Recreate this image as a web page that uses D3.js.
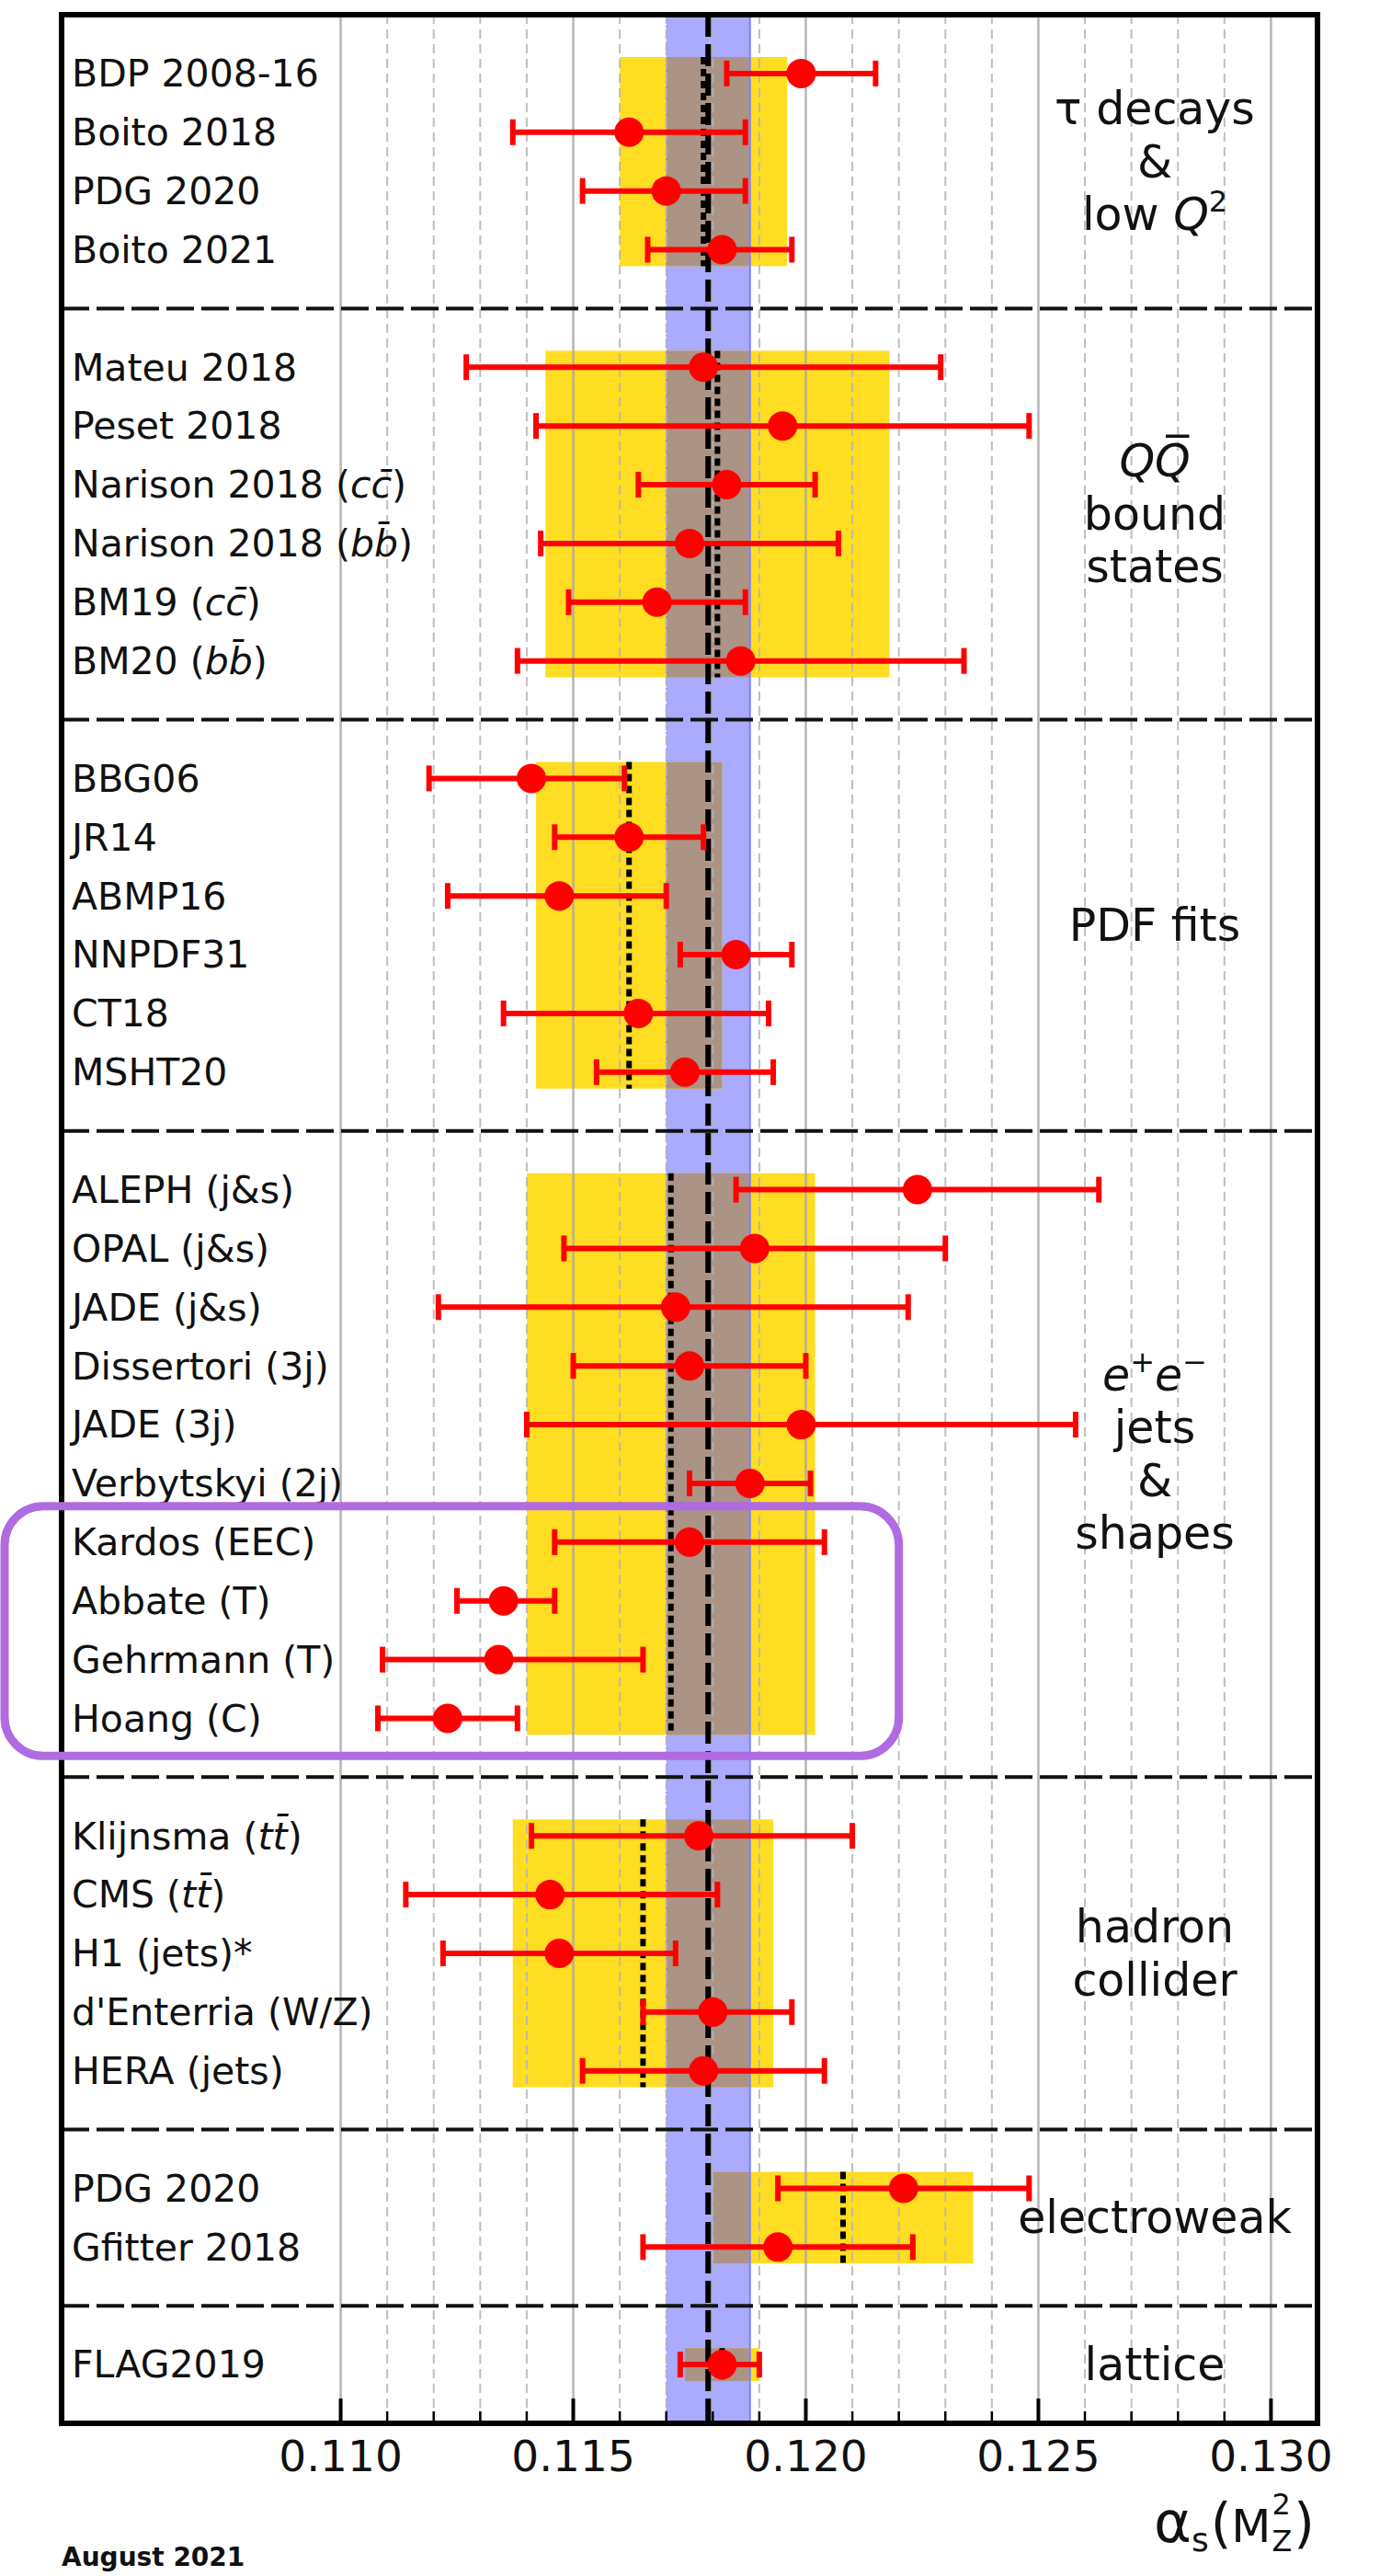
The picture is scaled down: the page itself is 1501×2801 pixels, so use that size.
<!DOCTYPE html>
<html><head><meta charset="utf-8">
<script src="https://cdn.jsdelivr.net/npm/d3@7"></script>
<style>html,body{margin:0;padding:0;background:#fff}svg{display:block}</style>
</head><body>
<svg id="chart" width="1501" height="2801"></svg>
<script>
// ---------------- data ----------------
const labels = [
  "BDP 2008-16","Boito 2018","PDG 2020","Boito 2021",
  "Mateu 2018","Peset 2018","Narison 2018 (cc\u0304)","Narison 2018 (bb\u0304)","BM19 (cc\u0304)","BM20 (bb\u0304)",
  "BBG06","JR14","ABMP16","NNPDF31","CT18","MSHT20",
  "ALEPH (j&s)","OPAL (j&s)","JADE (j&s)","Dissertori (3j)","JADE (3j)","Verbytskyi (2j)","Kardos (EEC)","Abbate (T)","Gehrmann (T)","Hoang (C)",
  "Klijnsma (tt\u0304)","CMS (tt\u0304)","H1 (jets)*","d'Enterria (W/Z)","HERA (jets)",
  "PDG 2020","Gfitter 2018",
  "FLAG2019"
];
const centralValues = [
  0.1199,0.1162,0.1170,0.1182,
  0.1178,0.1195,0.1183,0.1175,0.1168,0.1186,
  0.1141,0.1162,0.1147,0.1185,0.1164,0.1174,
  0.1224,0.1189,0.1172,0.1175,0.1199,0.1188,0.1175,0.1135,0.1134,0.1123,
  0.1177,0.1145,0.1147,0.1180,0.1178,
  0.1221,0.1194,
  0.1182
];
const lowerBounds = [
  0.1183,0.1137,0.1152,0.1166,
  0.1127,0.1142,0.1164,0.1143,0.1149,0.1138,
  0.1119,0.1146,0.1123,0.1173,0.1135,0.1155,
  0.1185,0.1148,0.1121,0.1150,0.1140,0.1175,0.1146,0.1125,0.1109,0.1108,
  0.1141,0.1114,0.1122,0.1165,0.1152,
  0.1194,0.1165,
  0.1173
];
const upperBounds = [
  0.1215,0.1187,0.1187,0.1197,
  0.1229,0.1248,0.1202,0.1207,0.1187,0.1234,
  0.1161,0.1178,0.1170,0.1197,0.1192,0.1193,
  0.1263,0.1230,0.1222,0.1200,0.1258,0.1201,0.1204,0.1146,0.1165,0.1138,
  0.1210,0.1181,0.1172,0.1197,0.1204,
  0.1248,0.1223,
  0.1190
];
const sectionSizes = [4,6,6,10,5,2,1];
const sectionAverages = [0.1178,0.1181,0.1162,0.1171,0.1165,0.1208,0.1182];
const sectionErrors   = [0.0018,0.0037,0.0020,0.0031,0.0028,0.0028,0.0008];
const sectionTitles = [
  [[{t:"τ decays"}],[{t:"&"}],[{t:"low "},{t:"Q",i:1},{t:"2",sup:1}]],
  [[{t:"Q",i:1},{t:"Q\u0305",i:1}],[{t:"bound"}],[{t:"states"}]],
  [[{t:"PDF fits"}]],
  [[{t:"e",i:1},{t:"+",sup:1},{t:"e",i:1},{t:"\u2212",sup:1}],[{t:"jets"}],[{t:"&"}],[{t:"shapes"}]],
  [[{t:"hadron"}],[{t:"collider"}]],
  [[{t:"electroweak"}]],
  [[{t:"lattice"}]]
];
const worldAverage = 0.1179;
const worldError = 0.0009;
const majorTicks = [0.110,0.115,0.120,0.125,0.130];
const tickLabels = ["0.110","0.115","0.120","0.125","0.130"];
const minorTicks = [0.111,0.112,0.113,0.114,0.116,0.117,0.118,0.119,0.121,0.122,0.123,0.124,0.126,0.127,0.128,0.129];
const highlightRows = ["Kardos (EEC)","Hoang (C)"];
const dateText = "August 2021";

// ---------------- layout ----------------
const X0 = 67, X1 = 1433, Y0 = 16, Y1 = 2635;
const nSlots = 41;
const x = d3.scaleLinear().domain([0.104,0.131]).range([X0,X1]);
const y = d3.scaleLinear().domain([0,nSlots]).range([Y0,Y1]);
const FONT = "'DejaVu Sans', Verdana, sans-serif";

// row slots and section structure
const rowSlot = [];
const sections = [];
{
  let s = 1, r = 0;
  sectionSizes.forEach((n,i) => {
    const first = s, last = s+n-1;
    for (let j=0;j<n;j++){ rowSlot.push(s+j); r++; }
    sections.push({i, first, last, sep: s+n});
    s = s+n+1;
  });
}
const rows = labels.map((l,i)=>({label:l, v:centralValues[i], lo:lowerBounds[i], hi:upperBounds[i], slot:rowSlot[i]}));

const svg = d3.select("#chart");
svg.append("rect").attr("width",1501).attr("height",2801).attr("fill","#fff");

const YEL = "#ffdd22", BLUE = "#aaaaff", BROWN = "#ab9386";
const pad = 0.28;

// world average band (full height)
svg.append("rect")
  .attr("x", x(worldAverage-worldError)).attr("y", Y0)
  .attr("width", x(worldAverage+worldError)-x(worldAverage-worldError))
  .attr("height", Y1-Y0).attr("fill", BLUE);

// section pre-average boxes
const boxes = svg.append("g");
sections.forEach(sec => {
  const a = sectionAverages[sec.i], e = sectionErrors[sec.i];
  const y1 = y(sec.first - pad), y2 = y(sec.last + pad);
  boxes.append("rect").attr("x", x(a-e)).attr("y", y1)
    .attr("width", x(a+e)-x(a-e)).attr("height", y2-y1).attr("fill", YEL);
  const lo = Math.max(a-e, worldAverage-worldError), hi = Math.min(a+e, worldAverage+worldError);
  if (hi > lo) {
    boxes.append("rect").attr("x", x(lo)).attr("y", y1)
      .attr("width", x(hi)-x(lo)).attr("height", y2-y1).attr("fill", BROWN);
  }
});

// band edges
svg.append("line").attr("x1", x(worldAverage+worldError)).attr("x2", x(worldAverage+worldError))
  .attr("y1",Y0).attr("y2",Y1).attr("stroke","#8080ff").attr("stroke-width",2);
svg.append("line").attr("x1", x(worldAverage-worldError)).attr("x2", x(worldAverage-worldError))
  .attr("y1",Y0).attr("y2",Y1).attr("stroke","#7070ff").attr("stroke-width",1.5).attr("stroke-dasharray","2,4").attr("opacity",0.6);

// grid
const grid = svg.append("g").attr("opacity",0.85);
grid.selectAll("line.maj").data(majorTicks).join("line")
  .attr("x1",d=>x(d)).attr("x2",d=>x(d)).attr("y1",Y0).attr("y2",Y1)
  .attr("stroke","#a9a9a9").attr("stroke-width",2.5);
grid.selectAll("line.min").data(minorTicks).join("line")
  .attr("x1",d=>x(d)).attr("x2",d=>x(d)).attr("y1",Y0).attr("y2",Y1)
  .attr("stroke","#b4b4b4").attr("stroke-width",2).attr("stroke-dasharray","10,6");

// separators
svg.append("g").selectAll("line").data(sections.slice(0,-1)).join("line")
  .attr("x1",X0).attr("x2",X1).attr("y1",d=>y(d.sep)).attr("y2",d=>y(d.sep))
  .attr("stroke","#111").attr("stroke-width",4).attr("stroke-dasharray","30,8");

// section average dotted lines
svg.append("g").selectAll("line").data(sections).join("line")
  .attr("x1",d=>x(sectionAverages[d.i])).attr("x2",d=>x(sectionAverages[d.i]))
  .attr("y1",d=>y(d.first-pad)).attr("y2",d=>y(d.last+pad))
  .attr("stroke","#000").attr("stroke-width",6).attr("stroke-dasharray","8,5");

// world average dashed line
svg.append("line").attr("x1",x(worldAverage)).attr("x2",x(worldAverage))
  .attr("y1",Y0).attr("y2",Y1).attr("stroke","#000").attr("stroke-width",6)
  .attr("stroke-dasharray","24,8");

// error bars
const eb = svg.append("g").attr("stroke","#ff0000").attr("fill","#ff0000");
eb.selectAll("line.bar").data(rows).join("line")
  .attr("x1",d=>x(d.lo)).attr("x2",d=>x(d.hi)).attr("y1",d=>y(d.slot)).attr("y2",d=>y(d.slot))
  .attr("stroke-width",6);
eb.selectAll("line.capl").data(rows).join("line")
  .attr("x1",d=>x(d.lo)).attr("x2",d=>x(d.lo)).attr("y1",d=>y(d.slot)-14).attr("y2",d=>y(d.slot)+14)
  .attr("stroke-width",6);
eb.selectAll("line.caph").data(rows).join("line")
  .attr("x1",d=>x(d.hi)).attr("x2",d=>x(d.hi)).attr("y1",d=>y(d.slot)-14).attr("y2",d=>y(d.slot)+14)
  .attr("stroke-width",6);
eb.selectAll("circle").data(rows).join("circle")
  .attr("cx",d=>x(d.v)).attr("cy",d=>y(d.slot)).attr("r",16).attr("stroke","none");

// row labels
const lab = svg.append("g").attr("font-family",FONT).attr("font-size",41).attr("fill","#111");
rows.forEach(d => {
  const t = lab.append("text").attr("x",78).attr("y",y(d.slot)).attr("dy","0.35em");
  const m = d.label.match(/^(.*\()([cbt])([cbt]\u0304)(\).*)$/);
  if (m) {
    t.append("tspan").text(m[1]);
    t.append("tspan").attr("font-style","italic").text(m[2]);
    t.append("tspan").attr("font-style","italic").text(m[3]);
    t.append("tspan").text(m[4]);
  } else t.text(d.label);
});

// section titles
const tit = svg.append("g").attr("font-family",FONT).attr("font-size",49).attr("fill","#111").attr("text-anchor","middle");
const TX = 1256, LS = 57.5;
sections.forEach(sec => {
  const lines = sectionTitles[sec.i];
  const c = y((sec.first+sec.last)/2);
  lines.forEach((segs,k) => {
    const cy = c + (k-(lines.length-1)/2)*LS;
    const t = tit.append("text").attr("x",TX).attr("y",cy+17);
    let raised = false;
    segs.forEach(sg => {
      const ts = t.append("tspan").text(sg.t);
      if (sg.i) ts.attr("font-style","italic");
      if (sg.sup) { ts.attr("font-size",32).attr("dy",-20); raised = true; }
      else if (raised) { ts.attr("dy",20); raised = false; }
    });
  });
});

// frame
svg.append("rect").attr("x",X0).attr("y",Y0).attr("width",X1-X0).attr("height",Y1-Y0)
  .attr("fill","none").attr("stroke","#000").attr("stroke-width",6);

// ticks
svg.append("g").selectAll("line").data(majorTicks).join("line")
  .attr("x1",d=>x(d)).attr("x2",d=>x(d)).attr("y1",Y1).attr("y2",Y1-27)
  .attr("stroke","#000").attr("stroke-width",4);
svg.append("g").selectAll("line").data(minorTicks).join("line")
  .attr("x1",d=>x(d)).attr("x2",d=>x(d)).attr("y1",Y1).attr("y2",Y1-13)
  .attr("stroke","#000").attr("stroke-width",2.5);
svg.append("g").attr("font-family",FONT).attr("font-size",47).attr("fill","#111").attr("text-anchor","middle")
  .selectAll("text").data(majorTicks).join("text")
  .attr("x",d=>x(d)).attr("y",Y1+52).text((d,i)=>tickLabels[i]);

// axis title  α_s(M_Z^2)
{
  const g = svg.append("g").attr("font-family",FONT).attr("fill","#111");
  let cx = 0; const base = 2764;
  const put = (txt, size, dy, style) => {
    const t = g.append("text").attr("x",cx).attr("y",base+dy).attr("font-size",size).text(txt);
    if (style) t.attr("font-style",style);
    const w = t.node().getComputedTextLength(); return {t,w};
  };
  let p = put("α",62,0); cx += p.w;
  p = put("s",36,10); cx += p.w+2;
  p = put("(",58,0); cx += p.w;
  p = put("M",50,0); cx += p.w+1;
  const sup = put("2",32,-30); const sub = put("Z",32,10);
  cx += Math.max(sup.w, sub.w)+2;
  p = put(")",58,0); cx += p.w;
  g.attr("transform",`translate(${1430-cx},0)`);
}

// date
svg.append("text").attr("x",67).attr("y",2790).attr("font-family",FONT).attr("font-weight","bold")
  .attr("font-size",28).attr("fill","#111").text(dateText);

// highlight box
{
  const idx = highlightRows.map(l => labels.indexOf(l));
  const s1 = rows[idx[0]].slot, s2 = rows[idx[1]].slot;
  svg.append("rect").attr("x",x(0.104)-62).attr("y",y(s1-0.61))
    .attr("width",x(0.1220)-(x(0.104)-62)).attr("height",y(s2+0.64)-y(s1-0.61))
    .attr("rx",42).attr("ry",42).attr("fill","none").attr("stroke","#b06be0").attr("stroke-width",9);
}
</script>
</body></html>
